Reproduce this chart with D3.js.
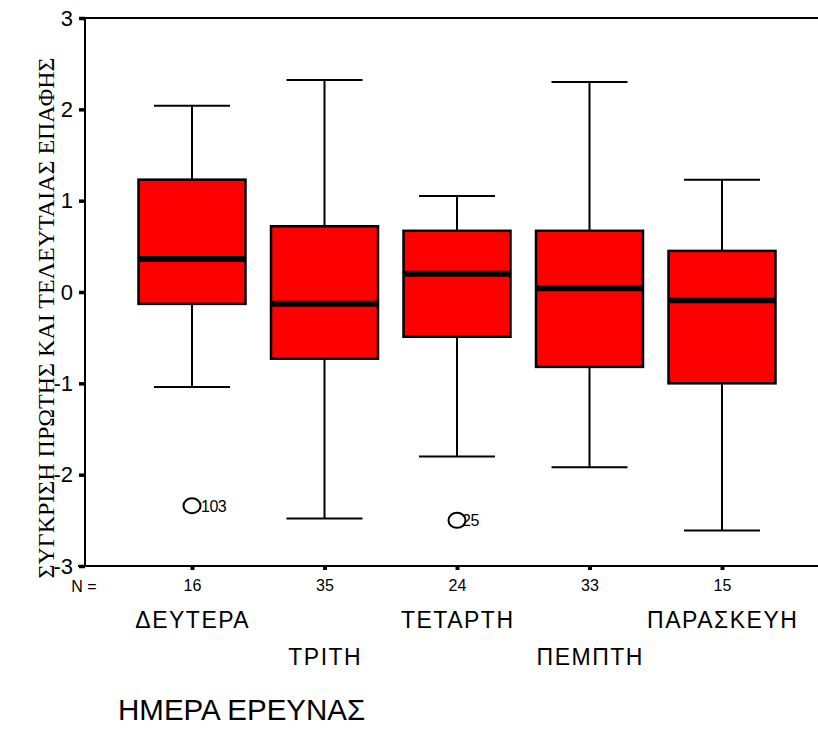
<!DOCTYPE html>
<html>
<head>
<meta charset="utf-8">
<script src="https://cdn.jsdelivr.net/npm/d3@7/dist/d3.min.js"></script>
<style>
  html, body { margin: 0; padding: 0; background: #fff; }
  svg { display: block; }
  text { font-family: "Liberation Sans", Arial, sans-serif; fill: #000; }
</style>
</head>
<body>
<svg id="chart" width="818" height="738"></svg>
<script>
// Days of the survey and group sizes
const days = ["ΔΕΥΤΕΡΑ", "ΤΡΙΤΗ", "ΤΕΤΑΡΤΗ", "ΠΕΜΠΤΗ", "ΠΑΡΑΣΚΕΥΗ"];
const counts = [16, 35, 24, 33, 15];

// Five-number summaries per day
const whiskerLow  = [-1.04, -2.48, -1.80, -1.92, -2.61];
const quart1      = [-0.13, -0.73, -0.49, -0.82, -1.00];
const medians     = [ 0.36, -0.13,  0.20,  0.04, -0.09];
const quart3      = [ 1.23,  0.72,  0.67,  0.67,  0.45];
const whiskerHigh = [ 2.04,  2.32,  1.05,  2.30,  1.23];

// Outlying cases: day index, value, case id
const outlierDay   = [0, 2];
const outlierValue = [-2.34, -2.50];
const outlierCase  = ["103", "25"];

const yTicks = [3, 2, 1, 0, -1, -2, -3];

const svg = d3.select("#chart");

const plotLeft = 85, plotTop = 18, plotBottom = 566, plotRight = 818;

const y = d3.scaleLinear().domain([-3, 3]).range([plotBottom, plotTop]);
const x = d3.scalePoint().domain(days).range([192, 722]);
const boxW = 107, capW = 76;

const boxes = days.map((d, i) => ({
  day: d, n: counts[i], lo: whiskerLow[i], q1: quart1[i], med: medians[i],
  q3: quart3[i], hi: whiskerHigh[i]
}));

// frame: top line
svg.append("line").attr("x1", plotLeft).attr("x2", plotRight).attr("y1", plotTop).attr("y2", plotTop)
  .attr("stroke", "#000").attr("stroke-width", 2);

// y axis
const yAxis = d3.axisLeft(y).tickValues(yTicks).tickSize(6).tickPadding(6)
  .tickFormat(d => d < 0 ? "-" + Math.abs(d) : String(d));
const gy = svg.append("g").attr("transform", `translate(${plotLeft},0)`).call(yAxis);
gy.select(".domain").attr("stroke", "#000").attr("stroke-width", 2).attr("d", `M0,${plotTop}V${plotBottom}`);
gy.selectAll(".tick line").attr("stroke", "#000").attr("stroke-width", 3.5);
gy.selectAll(".tick text").style("font-size", "22px").style("font-family", "Liberation Sans, Arial, sans-serif");

// x axis with case counts
const xAxis = d3.axisBottom(x).tickSize(4).tickPadding(10)
  .tickFormat((d, i) => String(counts[i]));
const gx = svg.append("g").attr("transform", `translate(0,${plotBottom})`).call(xAxis);
gx.select(".domain").attr("stroke", "#000").attr("stroke-width", 2).attr("d", `M${plotLeft - 7},0H${plotRight}`);
gx.selectAll(".tick line").attr("stroke", "#000").attr("stroke-width", 4);
gx.selectAll(".tick text").style("font-size", "16px").style("font-family", "Liberation Sans, Arial, sans-serif");

svg.append("text").attr("x", 84).attr("y", 592).attr("text-anchor", "middle")
  .style("font-size", "16px").text("N =");

// staggered day names
svg.append("g").selectAll("text").data(days).join("text")
  .attr("x", d => x(d) + 0.75)
  .attr("y", (d, i) => i % 2 === 0 ? 628 : 665)
  .attr("text-anchor", "middle")
  .style("font-size", "23px")
  .style("letter-spacing", "1.5px")
  .text(d => d);

// axis titles
svg.append("text").attr("x", 118).attr("y", 720)
  .style("font-size", "29.5px").text("ΗΜΕΡΑ ΕΡΕΥΝΑΣ");

svg.append("text")
  .attr("transform", "translate(54,318) rotate(-90)")
  .attr("text-anchor", "middle")
  .style("font-family", "Liberation Serif, Times New Roman, serif")
  .style("font-size", "24px")
  .text("ΣΥΓΚΡΙΣΗ ΠΡΩΤΗΣ ΚΑΙ ΤΕΛΕΥΤΑΙΑΣ ΕΠΑΦΗΣ");

// box plots
const g = svg.append("g");
const bx = g.selectAll("g.box").data(boxes).join("g").attr("class", "box");

bx.append("line")
  .attr("x1", d => x(d.day)).attr("x2", d => x(d.day))
  .attr("y1", d => y(d.hi)).attr("y2", d => y(d.lo))
  .attr("stroke", "#000").attr("stroke-width", 2);
bx.append("line")
  .attr("x1", d => x(d.day) - capW / 2).attr("x2", d => x(d.day) + capW / 2)
  .attr("y1", d => y(d.hi)).attr("y2", d => y(d.hi))
  .attr("stroke", "#000").attr("stroke-width", 2);
bx.append("line")
  .attr("x1", d => x(d.day) - capW / 2).attr("x2", d => x(d.day) + capW / 2)
  .attr("y1", d => y(d.lo)).attr("y2", d => y(d.lo))
  .attr("stroke", "#000").attr("stroke-width", 2);
bx.append("rect")
  .attr("x", d => x(d.day) - boxW / 2).attr("width", boxW)
  .attr("y", d => y(d.q3)).attr("height", d => y(d.q1) - y(d.q3))
  .attr("fill", "#ff0000").attr("stroke", "#000").attr("stroke-width", 2.5);
bx.append("line")
  .attr("x1", d => x(d.day) - boxW / 2).attr("x2", d => x(d.day) + boxW / 2)
  .attr("y1", d => y(d.med)).attr("y2", d => y(d.med))
  .attr("stroke", "#000").attr("stroke-width", 6);

// outliers
const outs = outlierDay.map((di, i) => ({ day: days[di], v: outlierValue[i], id: outlierCase[i] }));
const og = svg.append("g").selectAll("g").data(outs).join("g");
og.append("ellipse")
  .attr("cx", d => x(d.day)).attr("cy", d => y(d.v))
  .attr("rx", 8.5).attr("ry", 7.5)
  .attr("fill", "none").attr("stroke", "#000").attr("stroke-width", 2);
og.append("text")
  .attr("x", d => x(d.day) + (d.id.length > 2 ? 9 : 5)).attr("y", d => y(d.v) + 6)
  .style("font-size", "16px").style("letter-spacing", "-0.5px")
  .text(d => d.id);
</script>
</body>
</html>
